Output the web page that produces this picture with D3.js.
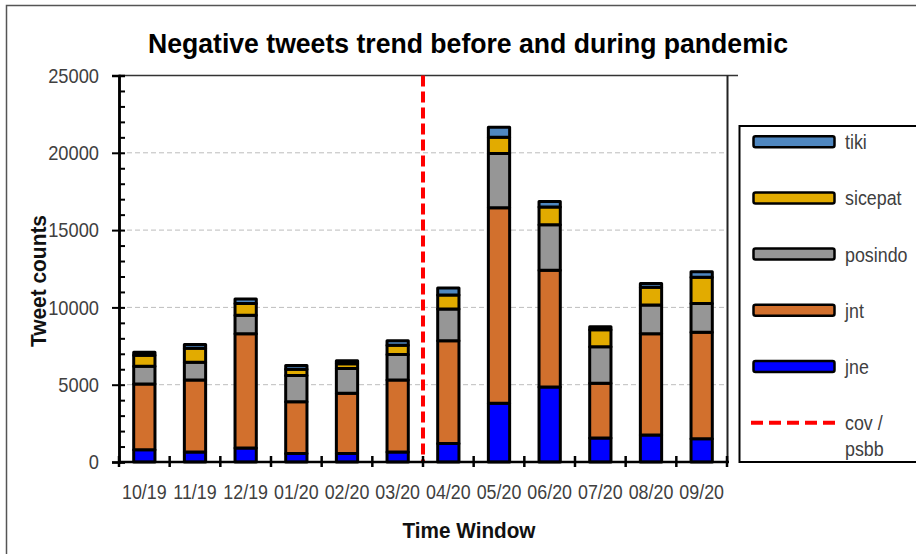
<!DOCTYPE html>
<html>
<head>
<meta charset="utf-8">
<script src="https://cdn.jsdelivr.net/npm/d3@7"></script>
<style>
  body { margin: 0; background: #fff; }
  svg { display: block; font-family: "Liberation Sans", Arial, sans-serif; }
</style>
</head>
<body>
<script>
// Data
const months = ['10/19', '11/19', '12/19', '01/20', '02/20', '03/20', '04/20', '05/20', '06/20', '07/20', '08/20', '09/20'];
const jne     = [800, 650, 900, 550, 550, 650, 1200, 3800, 4850, 1550, 1750, 1500];
const jnt     = [4250, 4650, 7400, 3350, 3900, 4650, 6650, 12650, 7550, 3550, 6550, 6900];
const posindo = [1150, 1150, 1200, 1700, 1600, 1650, 2050, 3500, 2950, 2350, 1850, 1850];
const sicepat = [700, 900, 750, 400, 300, 600, 900, 1050, 1150, 1100, 1150, 1700];
const tiki    = [200, 250, 300, 250, 200, 300, 450, 650, 350, 200, 250, 350];
const yTicks = [0, 5000, 10000, 15000, 20000, 25000];
const covMonth = '04/20'; // red dashed marker sits just before this month

const keys = ['jne', 'jnt', 'posindo', 'sicepat', 'tiki'];
const colors = { jne: '#0000ff', jnt: '#d2702d', posindo: '#969696', sicepat: '#e2ab00', tiki: '#4f87c0' };

const w = 916, h = 554;
const plotL = 119, plotR = 727, plotT = 75.5, plotB = 462;

// the source font is a bit narrower than Liberation Sans
function condense(sel, k) {
  sel.each(function() {
    const len = this.getComputedTextLength();
    d3.select(this).attr('textLength', len * k).attr('lengthAdjust', 'spacingAndGlyphs');
  });
}

const svg = d3.select('body').append('svg')
  .attr('width', w)
  .attr('height', h);

// outer frame
svg.append('path')
  .attr('d', `M6.5,${h} V5.5 H${w}`)
  .attr('fill', 'none')
  .attr('stroke', '#555')
  .attr('stroke-width', 1.5);

const table = months.map((m, i) => ({
  month: m, jne: jne[i], jnt: jnt[i], posindo: posindo[i], sicepat: sicepat[i], tiki: tiki[i]
}));

const x = d3.scaleBand()
  .domain(months)
  .range([plotL, plotR])
  .paddingInner(0.58)
  .paddingOuter(0.29);

const y = d3.scaleLinear()
  .domain([0, 25000])
  .range([plotB, plotT]);

// gridlines
svg.append('g')
  .selectAll('line')
  .data(yTicks.filter(t => t > 0 && t < 25000))
  .enter()
  .append('line')
  .attr('x1', plotL)
  .attr('x2', plotR)
  .attr('y1', d => y(d))
  .attr('y2', d => y(d))
  .attr('stroke', '#bdbdbd')
  .attr('stroke-width', 1)
  .attr('stroke-dasharray', '5,3');

// plot frame top and right
svg.append('path')
  .attr('d', `M${plotL},${plotT} H738`)
  .attr('stroke', '#333')
  .attr('stroke-width', 1.5);
svg.append('path')
  .attr('d', `M${plotR + 0.5},${plotT} V${plotB}`)
  .attr('stroke', '#222')
  .attr('stroke-width', 2);

// stacked bars
const series = d3.stack().keys(keys)(table);

svg.append('g')
  .selectAll('g')
  .data(series)
  .enter()
  .append('g')
  .attr('fill', d => colors[d.key])
  .selectAll('rect')
  .data(d => d)
  .enter()
  .append('rect')
  .attr('x', d => x(d.data.month))
  .attr('y', d => y(d[1]))
  .attr('width', x.bandwidth())
  .attr('height', d => y(d[0]) - y(d[1]))
  .attr('stroke', '#000')
  .attr('stroke-width', 3)
  .attr('stroke-linejoin', 'round');

// red dashed cov / psbb marker
const covX = x(covMonth) - x.step() * x.paddingInner() / 2;
svg.append('line')
  .attr('x1', covX)
  .attr('x2', covX)
  .attr('y1', plotT)
  .attr('y2', plotB)
  .attr('stroke', '#ff0000')
  .attr('stroke-width', 4)
  .attr('stroke-dasharray', '11,5');

// Y axis
const yAxis = svg.append('g')
  .attr('transform', `translate(${plotL},0)`)
  .call(d3.axisLeft(y).tickValues(yTicks).tickSize(7).tickPadding(13).tickFormat(d3.format('d')));
svg.append('g')
  .attr('transform', `translate(${plotL},0)`)
  .call(d3.axisRight(y).tickValues(d3.range(0, 25001, 1000)).tickSize(6).tickFormat(''));

svg.selectAll('.domain').attr('stroke', '#000').attr('stroke-width', 2.5);
svg.selectAll('.tick line').attr('stroke', '#000').attr('stroke-width', 2);
yAxis.selectAll('text')
  .attr('font-size', 21)
  .attr('fill', '#404040')
  .attr('font-family', '"Liberation Sans", Arial, sans-serif')
  .call(condense, 0.87);

// X axis
const xAxis = svg.append('g')
  .attr('transform', `translate(0,${plotB})`)
  .call(d3.axisBottom(x).tickSize(0));
xAxis.select('.domain')
  .attr('d', `M${plotL},0H${plotR + 2}`)
  .attr('stroke', '#000')
  .attr('stroke-width', 2.5);
xAxis.selectAll('text')
  .attr('y', 36.5)
  .attr('dy', 0)
  .attr('font-size', 20.5)
  .attr('fill', '#404040')
  .attr('font-family', '"Liberation Sans", Arial, sans-serif')
  .call(condense, 0.87);

// category boundary ticks
xAxis.selectAll('.bound')
  .data(d3.range(months.length + 1))
  .enter()
  .append('line')
  .attr('class', 'bound')
  .attr('x1', i => plotL + i * x.step())
  .attr('x2', i => plotL + i * x.step())
  .attr('y1', -6)
  .attr('y2', 5)
  .attr('stroke', '#000')
  .attr('stroke-width', 2.5);

// titles
svg.append('text')
  .attr('x', 468)
  .attr('y', 53)
  .attr('text-anchor', 'middle')
  .attr('font-size', 28.5)
  .attr('font-weight', 'bold')
  .attr('fill', '#000')
  .attr('textLength', 640)
  .attr('lengthAdjust', 'spacingAndGlyphs')
  .text('Negative tweets trend before and during pandemic');

svg.append('text')
  .attr('transform', 'translate(45.5,281) rotate(-90)')
  .attr('text-anchor', 'middle')
  .attr('font-size', 22)
  .attr('font-weight', 'bold')
  .attr('fill', '#111')
  .attr('textLength', 132)
  .attr('lengthAdjust', 'spacingAndGlyphs')
  .text('Tweet counts');

svg.append('text')
  .attr('x', 469)
  .attr('y', 538)
  .attr('text-anchor', 'middle')
  .attr('font-size', 22)
  .attr('font-weight', 'bold')
  .attr('fill', '#111')
  .attr('textLength', 133)
  .attr('lengthAdjust', 'spacingAndGlyphs')
  .text('Time Window');

// legend
const legend = svg.append('g');
legend.append('rect')
  .attr('x', 739.5)
  .attr('y', 126)
  .attr('width', 180)
  .attr('height', 336)
  .attr('fill', '#fff')
  .attr('stroke', '#000')
  .attr('stroke-width', 2);

const legendKeys = keys.slice().reverse();
const rowY = i => 141.7 + i * 56.2;

legendKeys.forEach((k, i) => {
  legend.append('rect')
    .attr('x', 753.5)
    .attr('y', rowY(i) - 5.5)
    .attr('width', 81)
    .attr('height', 11)
    .attr('rx', 2)
    .attr('fill', colors[k])
    .attr('stroke', '#000')
    .attr('stroke-width', 2.5);
  legend.append('text')
    .attr('x', 845)
    .attr('y', rowY(i))
    .attr('dominant-baseline', 'central')
    .attr('font-size', 20.5)
    .attr('fill', '#404040')
    .text(k);
});

const covY = rowY(legendKeys.length);
legend.append('line')
  .attr('x1', 751)
  .attr('x2', 838)
  .attr('y1', covY)
  .attr('y2', covY)
  .attr('stroke', '#ff0000')
  .attr('stroke-width', 4)
  .attr('stroke-dasharray', '12,6');
legend.append('text')
  .attr('x', 845)
  .attr('y', covY)
  .attr('dominant-baseline', 'central')
  .attr('font-size', 20.5)
  .attr('fill', '#404040')
  .text('cov /');
legend.append('text')
  .attr('x', 845)
  .attr('y', covY + 26)
  .attr('dominant-baseline', 'central')
  .attr('font-size', 20.5)
  .attr('fill', '#404040')
  .text('psbb');

legend.selectAll('text').call(condense, 0.87);
</script>
</body>
</html>
